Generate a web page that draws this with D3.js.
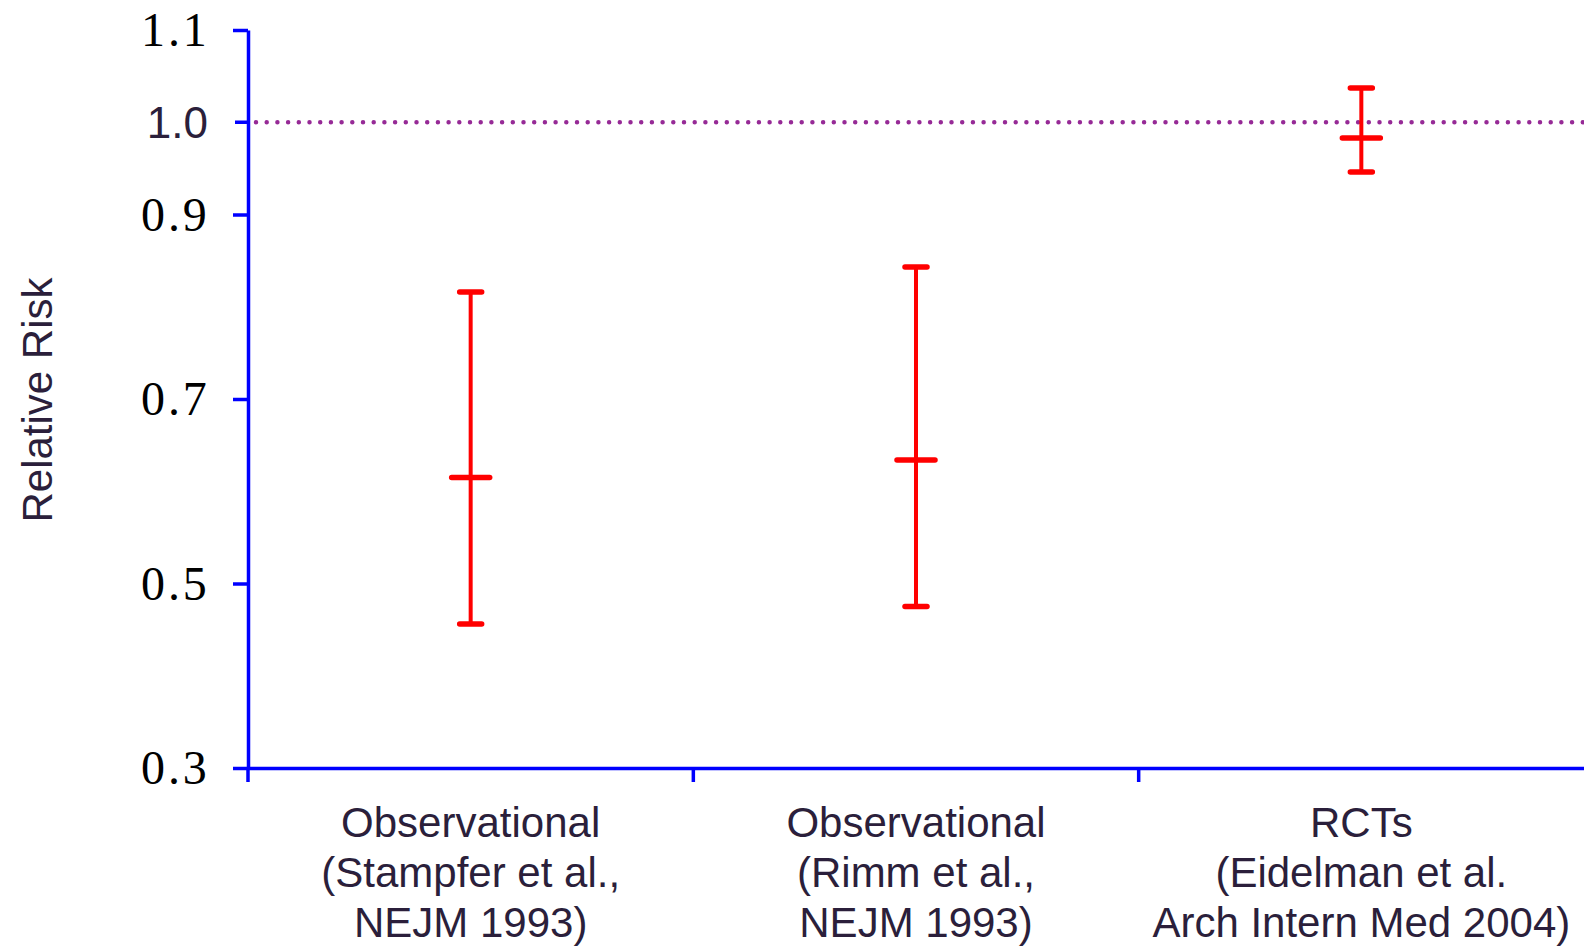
<!DOCTYPE html>
<html>
<head>
<meta charset="utf-8">
<script src="https://cdn.jsdelivr.net/npm/d3@7"></script>
<style>
  body { margin: 0; background: #fff; }
  svg { display: block; }
</style>
</head>
<body>
<svg id="chart"></svg>
<script>
// data
const categories = ["obs1", "obs2", "rct"];
const categoryLines = [
    ["Observational", "(Stampfer et al.,", "NEJM 1993)"],
    ["Observational", "(Rimm et al.,", "NEJM 1993)"],
    ["RCTs", "(Eidelman et al.", "Arch Intern Med 2004)"]
];
const estimates = [0.615, 0.634, 0.983];
const lowerCI = [0.456, 0.475, 0.946];
const upperCI = [0.816, 0.843, 1.037];
const yTicks = [0.3, 0.5, 0.7, 0.9, 1.1];
const refValue = 1.0;
const refLabel = "1.0";

const width = 1584, height = 947;
const margin = { top: 30, right: 0, bottom: 179, left: 248 };
const textColor = "#2b1f3b";
const axisColor = "#0000ff";

const svg = d3.select("#chart")
    .attr("width", width)
    .attr("height", height);

const x = d3.scaleBand()
    .domain(categories)
    .range([margin.left, width - margin.right])
    .padding(0);

const y = d3.scaleLinear()
    .domain([0.3, 1.1])
    .range([height - margin.bottom, margin.top]);

const data = categories.map((c, i) => ({
    key: c, lines: categoryLines[i], est: estimates[i], lo: lowerCI[i], hi: upperCI[i]
}));

// reference line at RR = 1
svg.append("line")
    .attr("x1", margin.left + 8)
    .attr("x2", width)
    .attr("y1", y(refValue))
    .attr("y2", y(refValue))
    .attr("stroke", "#962a96")
    .attr("stroke-width", 4.5)
    .attr("stroke-linecap", "round")
    .attr("stroke-dasharray", "0,10.7");

// y axis
const yAxis = svg.append("g")
    .attr("transform", `translate(${margin.left},0)`)
    .call(d3.axisLeft(y).tickValues(yTicks).tickFormat(d3.format(".1f")).tickSize(15).tickSizeOuter(0));
yAxis.select(".domain").attr("stroke", axisColor).attr("stroke-width", 3.5);
yAxis.selectAll(".tick line").attr("stroke", axisColor).attr("stroke-width", 3.5);
yAxis.selectAll(".tick text")
    .attr("x", -38.5)
    .attr("dy", "0.33em")
    .attr("fill", "#000")
    .style("font-family", "'Liberation Serif', 'Times New Roman', serif")
    .style("font-size", "48px")
    .style("letter-spacing", "2.8px");

// the 1.0 tick was added separately in the original, sans-serif
svg.append("line")
    .attr("x1", margin.left - 13)
    .attr("x2", margin.left)
    .attr("y1", y(refValue))
    .attr("y2", y(refValue))
    .attr("stroke", axisColor)
    .attr("stroke-width", 3.5);
svg.append("text")
    .attr("x", margin.left - 40)
    .attr("y", y(refValue))
    .attr("dy", "0.36em")
    .attr("text-anchor", "end")
    .attr("fill", textColor)
    .style("font-family", "'Liberation Sans', Arial, sans-serif")
    .style("font-size", "44px")
    .text(refLabel);

// x axis
const xAxis = svg.append("g")
    .attr("transform", `translate(0,${y(0.3)})`)
    .call(d3.axisBottom(x).tickSize(0).tickFormat(""));
xAxis.select(".domain").attr("stroke", axisColor).attr("stroke-width", 3.5);
xAxis.selectAll(".tick").remove();

svg.selectAll(".xtick")
    .data(categories)
    .enter().append("line")
    .attr("class", "xtick")
    .attr("x1", d => x(d))
    .attr("x2", d => x(d))
    .attr("y1", y(0.3))
    .attr("y2", y(0.3) + 14)
    .attr("stroke", axisColor)
    .attr("stroke-width", 3.5);

// category labels
const labels = svg.selectAll(".cat")
    .data(data)
    .enter().append("text")
    .attr("class", "cat")
    .attr("text-anchor", "middle")
    .attr("fill", textColor)
    .style("font-family", "'Liberation Sans', Arial, sans-serif")
    .style("font-size", "42px");
labels.selectAll("tspan")
    .data(d => d.lines.map(l => ({ l, cx: x(d.key) + x.bandwidth() / 2 })))
    .enter().append("tspan")
    .attr("x", d => d.cx)
    .attr("y", (d, i) => 837 + i * 50)
    .text(d => d.l);

// y title
svg.append("text")
    .attr("transform", "translate(52,400) rotate(-90)")
    .attr("text-anchor", "middle")
    .attr("fill", textColor)
    .style("font-family", "'Liberation Sans', Arial, sans-serif")
    .style("font-size", "42px")
    .text("Relative Risk");

// error bars
const bars = svg.selectAll(".bar")
    .data(data)
    .enter().append("g")
    .attr("class", "bar")
    .attr("transform", d => `translate(${x(d.key) + x.bandwidth() / 2},0)`)
    .attr("stroke", "#ff0000")
    .attr("stroke-linecap", "round");

bars.append("line")
    .attr("y1", d => y(d.lo))
    .attr("y2", d => y(d.hi))
    .attr("stroke-width", 4);

bars.append("line")
    .attr("x1", -11).attr("x2", 11)
    .attr("y1", d => y(d.hi)).attr("y2", d => y(d.hi))
    .attr("stroke-width", 5.5);

bars.append("line")
    .attr("x1", -11).attr("x2", 11)
    .attr("y1", d => y(d.lo)).attr("y2", d => y(d.lo))
    .attr("stroke-width", 5.5);

bars.append("line")
    .attr("x1", -19).attr("x2", 19)
    .attr("y1", d => y(d.est)).attr("y2", d => y(d.est))
    .attr("stroke-width", 5.5);
</script>
</body>
</html>
